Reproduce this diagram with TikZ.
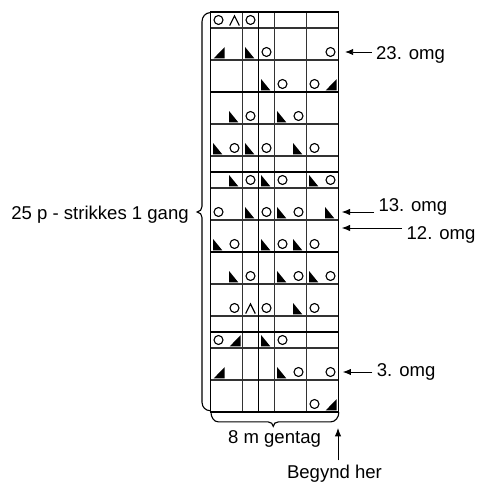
\documentclass[tikz,border=0pt]{standalone}
\usepackage{fontspec}
\setmainfont{Liberation Sans}
\usetikzlibrary{arrows.meta}
\def\omslag(#1,#2){\draw[line width=0.35mm] ({#1-0.5},{#2-0.5}) circle (0.28);}
\def\venstre(#1,#2){\fill ({#1-0.83},{#2-0.2}) -- ({#1-0.83},{#2-0.9}) -- ({#1-0.26},{#2-0.9}) -- cycle;}
\def\hoejre(#1,#2){\fill ({#1-0.8},{#2-0.9}) -- ({#1-0.12},{#2-0.9}) -- ({#1-0.12},{#2-0.2}) -- cycle;}
\def\dobbel(#1,#2){\draw[line width=0.35mm] ({#1-0.8},{#2-0.85}) -- ({#1-0.5},{#2-0.25}) -- ({#1-0.2},{#2-0.85});}

\begin{document}
\begin{tikzpicture}[x=0.5cm, y=0.5cm,
	etiket/.style={inner sep=0pt, outer sep=4pt, font=\fontsize{16.5}{19}\selectfont},
	pil/.style={line width=0.3mm, -{Latex[length=2.6mm,width=2mm]}}]
			%%%%% START %%%%%
			\useasboundingbox (-13.156,-4.4375) rectangle (16.656,25.75);
			
			% diagram
			\draw[line width=0.4mm, color=black!80] (0,0) grid (8,25);
			\draw[line width=0.55mm] (0,5) -- (8,5);
			\draw[line width=0.55mm] (0,10) -- (8,10);
			\draw[line width=0.55mm] (0,15) -- (8,15);
			\draw[line width=0.55mm] (0,20) -- (8,20);
			\draw[line width=0.55mm] (3,0) -- (3,25);
			\draw[line width=0.6mm] (0,0) rectangle (8,25);
			
			% tegn, omgang for omgang
			\omslag(1,25) \dobbel(2,25) \omslag(3,25)
			\hoejre(1,23) \venstre(3,23) \omslag(4,23) \omslag(8,23)
			\venstre(4,21) \omslag(5,21) \omslag(7,21) \hoejre(8,21)
			\venstre(2,19) \omslag(3,19) \venstre(5,19) \omslag(6,19)
			\venstre(1,17) \omslag(2,17) \venstre(3,17) \omslag(4,17) \venstre(6,17) \omslag(7,17)
			\venstre(2,15) \omslag(3,15) \venstre(4,15) \omslag(5,15) \venstre(7,15) \omslag(8,15)
			\omslag(1,13) \venstre(3,13) \omslag(4,13) \venstre(5,13) \omslag(6,13) \venstre(8,13)
			\venstre(1,11) \omslag(2,11) \venstre(4,11) \omslag(5,11) \venstre(6,11) \omslag(7,11)
			\venstre(2,9) \omslag(3,9) \venstre(5,9) \omslag(6,9) \venstre(7,9) \omslag(8,9)
			\omslag(2,7) \dobbel(3,7) \omslag(4,7) \venstre(6,7) \omslag(7,7)
			\omslag(1,5) \hoejre(2,5) \venstre(4,5) \omslag(5,5)
			\hoejre(1,3) \venstre(5,3) \omslag(6,3) \omslag(8,3)
			\omslag(7,1) \hoejre(8,1)
			
			% klammer
			\draw[line width=0.35mm] (-0.02,24.96) to[out=180,in=90] (-0.53,24.4) -- (-0.53,12.85)
				to[out=-90,in=0] (-0.84,12.5) to[out=0,in=90] (-0.53,12.15) -- (-0.53,0.6)
				to[out=-90,in=180] (-0.02,0.08);
			\draw[line width=0.35mm] (0.03,-0.02) to[out=-90,in=180] (0.5,-0.62) -- (3.6,-0.62)
				to[out=0,in=90] (3.92,-0.9) to[out=90,in=180] (4.24,-0.62) -- (7.5,-0.62)
				to[out=0,in=-90] (8.02,-0.02);
			
			% tekst og pile
			\node[etiket, anchor=base east] (strik) at (-1.08,12.04) {25 p - strikkes 1 gang};
			\node[etiket, anchor=base] (gentag) at (4,-1.97) {8 m gentag};
			\node[etiket, anchor=base] (begynd) at (7.75,-4.14) {Begynd her};
			\node[etiket, anchor=base west] (omg23) at (10.07,22.04) {23. omg};
			\node[etiket, anchor=base west] (omg13) at (10.22,12.56) {13. omg};
			\node[etiket, anchor=base west] (omg12) at (11.98,10.79) {12. omg};
			\node[etiket, anchor=base west] (omg3) at (10.12,2.2) {3. omg};
			
			\coordinate (r23) at (8.4,22.5);
			\coordinate (r13) at (8.2,12.5);
			\coordinate (r12) at (8.2,11.5);
			\coordinate (r3) at (8.26,2.5);
			\coordinate (start) at (7.97,-1.0);
			
			\draw[pil] (omg23.west |- r23) -- (r23);
			\draw[pil] (omg13.west |- r13) -- (r13);
			\draw[pil] (omg12.west |- r12) -- (r12);
			\draw[pil] (omg3.west |- r3) -- (r3);
			\draw[pil] (begynd.north -| start) -- (start);
			
			%%%%% END %%%%%
\end{tikzpicture}
\end{document}
